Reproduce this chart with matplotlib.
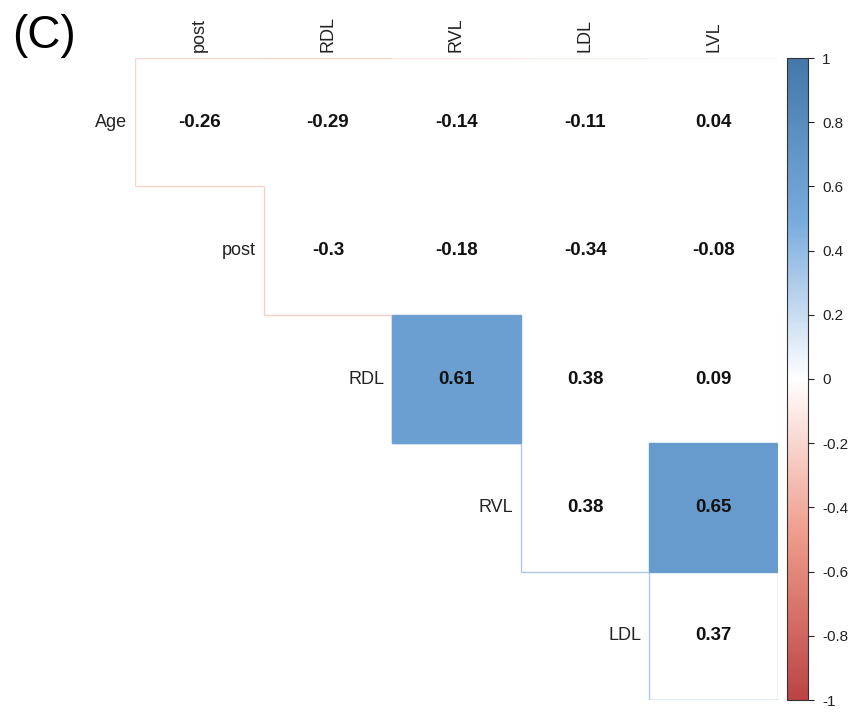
import numpy as np
import matplotlib.pyplot as plt
from matplotlib.colors import LinearSegmentedColormap, Normalize
from matplotlib.cm import ScalarMappable
from matplotlib.patches import Rectangle

plt.rcParams['font.family'] = ['Liberation Sans', 'DejaVu Sans']

# correlation values (upper triangle), rows x columns
rowLabels = ['Age', 'post', 'RDL', 'RVL', 'LDL']
colLabels = ['post', 'RDL', 'RVL', 'LDL', 'LVL']
ageRow = [-0.26, -0.29, -0.14, -0.11, 0.04]
postRow = [None, -0.3, -0.18, -0.34, -0.08]
rdlRow = [None, None, 0.61, 0.38, 0.09]
rvlRow = [None, None, None, 0.38, 0.65]
ldlRow = [None, None, None, None, 0.37]
# cells that are filled with colour (significant)
significant = [('RDL', 'RVL'), ('RVL', 'LVL')]
cbarTicks = [-1, -0.8, -0.6, -0.4, -0.2, 0, 0.2, 0.4, 0.6, 0.8, 1]

values = [ageRow, postRow, rdlRow, rvlRow, ldlRow]
cmap = LinearSegmentedColormap.from_list(
    'corr', ['#BB4444', '#EE9988', '#FFFFFF', '#77AADD', '#4477AA'], N=200)
norm = Normalize(-1, 1)

fig = plt.figure(figsize=(8.54, 7.13), dpi=100)
ax = fig.add_axes([135 / 854, 13 / 713, 643 / 854, 642 / 713])
nRows, nCols = len(rowLabels), len(colLabels)
ax.set_xlim(0, nCols)
ax.set_ylim(nRows, 0)
ax.axis('off')

for r in range(nRows):
    for c in range(nCols):
        v = values[r][c]
        if v is None:
            continue
        col = cmap(norm(v))
        if (rowLabels[r], colLabels[c]) in significant:
            ax.add_patch(Rectangle((c, r), 1, 1, facecolor=col, edgecolor=col, lw=1))
        # outer edges of the triangle only
        edges = []
        if r == 0:
            edges.append(([c, c + 1], [r, r]))
        if c == r:
            edges.append(([c, c], [r, r + 1]))
            edges.append(([c, c + 1], [r + 1, r + 1]))
        if r == nRows - 1:
            edges.append(([c, c + 1], [r + 1, r + 1]))
        if c == nCols - 1:
            edges.append(([c + 1, c + 1], [r, r + 1]))
        for xs, ys in edges:
            ax.plot(xs, ys, color=col, lw=1.0, alpha=0.8, solid_capstyle='butt')
        ax.text(c + 0.5, r + 0.5, '{:g}'.format(v), ha='center', va='center',
                fontsize=13.5, fontweight='bold', color='#111111')

for r, lab in enumerate(rowLabels):
    ax.text(r - 0.06, r + 0.5, lab, ha='right', va='center', fontsize=13, color='#222222')
for c, lab in enumerate(colLabels):
    ax.text(c + 0.5, -0.05, lab, ha='center', va='bottom', rotation=90,
            fontsize=13, color='#222222')

fig.text(12 / 854, 1 - 36 / 713, '(C)', fontsize=33, va='center', ha='left')

cax = fig.add_axes([787 / 854, 13 / 713, 21 / 854, 642 / 713])
cb = fig.colorbar(ScalarMappable(norm=norm, cmap=cmap), cax=cax, ticks=cbarTicks)
cb.ax.set_yticklabels(['{:g}'.format(t) for t in cbarTicks])
cb.ax.tick_params(labelsize=11, length=4, width=0.8, pad=6, colors='#222222')
cb.outline.set_linewidth(0.8)
cb.outline.set_edgecolor('#333333')

fig.savefig('out.png', dpi=100)
